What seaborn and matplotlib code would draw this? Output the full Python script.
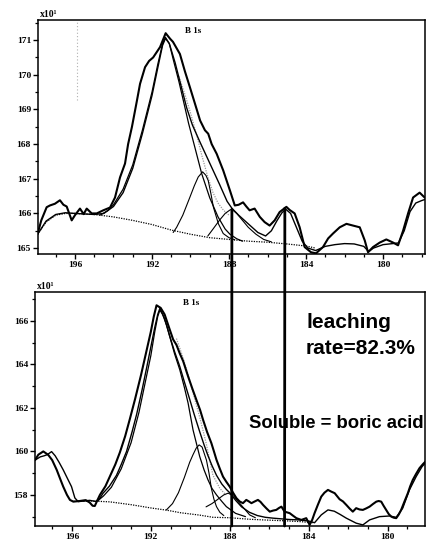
import pandas as pd
import seaborn as sns
import matplotlib.pyplot as plt
from matplotlib.patches import ConnectionPatch
from matplotlib.ticker import MultipleLocator

# B 1s XPS spectra, binding energy (eV) vs counts (x10^1)
# --- upper spectrum ---
top_raw = [(197.94, 165.41), (197.75, 165.8), (197.47, 166.18), (197.3, 166.23), (197.04, 166.28),
           (196.78, 166.38), (196.6, 166.25), (196.43, 166.2), (196.17, 165.8), (196.0, 165.95),
           (195.74, 166.14), (195.55, 165.98), (195.39, 166.14), (195.13, 166.0), (194.87, 166.0),
           (194.53, 166.09), (194.18, 166.17), (193.92, 166.46), (193.66, 167.04), (193.4, 167.44),
           (193.24, 168.0), (193.04, 168.5), (192.78, 169.26), (192.62, 169.74), (192.36, 170.22),
           (192.15, 170.4), (191.94, 170.5), (191.58, 170.8), (191.29, 171.2), (191.06, 171.04),
           (190.91, 170.95), (190.55, 170.6), (190.29, 170.1), (190.03, 169.64), (189.77, 169.17),
           (189.5, 168.68), (189.25, 168.4), (189.08, 168.3), (188.9, 168.0), (188.64, 167.72),
           (188.3, 167.24), (187.95, 166.66), (187.7, 166.23), (187.5, 166.25), (187.27, 166.32),
           (187.1, 166.2), (186.93, 166.09), (186.67, 166.14), (186.4, 165.9), (186.15, 165.75),
           (185.89, 165.65), (185.63, 165.8), (185.37, 166.04), (185.02, 166.19), (184.85, 166.1),
           (184.59, 166.0), (184.33, 165.6), (184.07, 165.03), (183.74, 164.88), (183.48, 164.85),
           (183.12, 165.03), (182.85, 165.28), (182.6, 165.42), (182.25, 165.6), (181.9, 165.7),
           (181.56, 165.65), (181.21, 165.6), (180.95, 165.22), (180.78, 164.88), (180.52, 165.03),
           (180.17, 165.16), (179.83, 165.25), (179.48, 165.16), (179.22, 165.08), (178.96, 165.5),
           (178.7, 166.0), (178.44, 166.46), (178.1, 166.6), (177.84, 166.46)]
top_fit = [(197.94, 165.40), (197.5, 165.78), (197.0, 165.97), (196.5, 166.02), (196.0, 166.0),
           (195.0, 165.97), (194.5, 166.0), (194.0, 166.2), (193.5, 166.6), (193.0, 167.3),
           (192.5, 168.3), (192.0, 169.4), (191.7, 170.2), (191.45, 170.85), (191.3, 171.05),
           (191.1, 170.9), (190.8, 170.35), (190.5, 169.7), (190.2, 169.05), (189.9, 168.55),
           (189.5, 168.05), (189.0, 167.45), (188.5, 166.85), (188.1, 166.35), (187.85, 166.15),
           (187.5, 165.95), (187.0, 165.7), (186.5, 165.45), (186.1, 165.35), (185.8, 165.5),
           (185.5, 165.8), (185.25, 166.02), (185.05, 166.12), (184.8, 166.0), (184.5, 165.6),
           (184.2, 165.2), (183.9, 165.0), (183.5, 164.93), (183.0, 165.05), (182.5, 165.1),
           (182.0, 165.13), (181.5, 165.12), (181.0, 165.05), (180.75, 164.9), (180.5, 165.0),
           (180.0, 165.1), (179.5, 165.13), (179.2, 165.15), (178.9, 165.5), (178.6, 166.05),
           (178.3, 166.3), (178.0, 166.37), (177.84, 166.4)]
top_c1 = [(194.7, 165.95), (194.3, 166.08), (194.0, 166.25), (193.5, 166.7), (193.0, 167.4),
          (192.5, 168.4), (192.0, 169.5), (191.7, 170.3), (191.45, 170.9), (191.3, 171.08),
          (191.1, 170.9), (190.9, 170.45), (190.6, 169.8), (190.39, 169.3), (190.1, 168.6),
          (189.77, 167.9), (189.42, 167.15), (189.0, 166.45), (188.57, 165.9), (188.2, 165.55),
          (187.95, 165.4), (187.6, 165.27), (187.3, 165.2)]
top_c2 = [(190.9, 165.45), (190.72, 165.6), (190.4, 165.95), (190.03, 166.47), (189.8, 166.8),
          (189.6, 167.05), (189.37, 167.2), (189.2, 167.1), (189.08, 166.95), (188.95, 166.6),
          (188.81, 166.18), (188.55, 165.7), (188.3, 165.42), (188.0, 165.3), (187.7, 165.24)]
top_c3 = [(189.1, 165.35), (188.83, 165.55), (188.5, 165.8), (188.2, 166.0), (187.95, 166.1),
          (187.85, 166.12), (187.6, 166.0), (187.3, 165.8), (187.0, 165.6), (186.6, 165.4),
          (186.2, 165.25), (185.8, 165.18)]
top_dot = [(190.6, 169.95), (190.3, 169.45), (190.0, 168.9), (189.7, 168.3), (189.4, 167.65),
           (189.1, 167.05), (188.83, 166.6), (188.57, 166.3), (188.3, 166.1), (188.0, 165.95)]
top_bg = [(197.94, 165.40), (197.5, 165.75), (197.0, 165.95), (196.5, 166.0), (196.0, 166.0),
          (195.0, 165.97), (194.0, 165.9), (193.0, 165.8), (192.0, 165.68), (191.0, 165.52),
          (190.0, 165.4), (189.0, 165.3), (188.0, 165.25), (187.0, 165.2), (186.0, 165.17),
          (185.0, 165.12), (184.0, 165.06), (183.5, 165.0)]

# --- lower spectrum (after leaching) ---
bot_raw = [(197.87, 159.6), (197.7, 159.85), (197.45, 160.0), (197.2, 159.84), (197.0, 159.6),
           (196.77, 159.15), (196.6, 158.75), (196.44, 158.38), (196.25, 158.0), (196.1, 157.77),
           (195.93, 157.69), (195.6, 157.72), (195.3, 157.76), (195.1, 157.65), (194.95, 157.5),
           (194.84, 157.49), (194.7, 157.77), (194.58, 158.0), (194.3, 158.4), (194.08, 158.84),
           (193.8, 159.4), (193.57, 159.95), (193.3, 160.7), (193.06, 161.5), (192.8, 162.4),
           (192.5, 163.5), (192.25, 164.5), (192.0, 165.5), (191.85, 166.2), (191.71, 166.72),
           (191.5, 166.6), (191.3, 166.3), (191.04, 165.6), (190.87, 165.15), (190.7, 164.9),
           (190.53, 164.5), (190.36, 164.15), (190.11, 163.45), (189.9, 162.9), (189.69, 162.37),
           (189.5, 161.9), (189.35, 161.45), (189.15, 160.9), (188.93, 160.38), (188.8, 160.0),
           (188.67, 159.61), (188.5, 159.2), (188.34, 158.84), (188.17, 158.6), (188.0, 158.38),
           (187.83, 158.1), (187.66, 157.85), (187.5, 157.7), (187.33, 157.62), (187.16, 157.77),
           (187.03, 157.7), (186.9, 157.62), (186.73, 157.7), (186.57, 157.77), (186.44, 157.68),
           (186.31, 157.54), (186.14, 157.38), (185.97, 157.23), (185.8, 157.28), (185.64, 157.31),
           (185.5, 157.4), (185.38, 157.46), (185.22, 157.23), (184.96, 157.16), (184.8, 157.05),
           (184.62, 156.93), (184.37, 156.85), (184.12, 156.93), (183.95, 156.62), (183.82, 156.85),
           (183.7, 157.16), (183.53, 157.55), (183.36, 157.92), (183.2, 158.1), (183.02, 158.23),
           (182.85, 158.15), (182.68, 158.08), (182.43, 157.8), (182.26, 157.7), (182.09, 157.54),
           (181.93, 157.38), (181.76, 157.23), (181.59, 157.39), (181.42, 157.33), (181.25, 157.31),
           (181.08, 157.38), (180.91, 157.46), (180.74, 157.58), (180.57, 157.69), (180.45, 157.72),
           (180.32, 157.69), (180.2, 157.5), (180.07, 157.31), (179.94, 157.12), (179.81, 157.0),
           (179.68, 156.95), (179.56, 156.93), (179.43, 157.1), (179.31, 157.31), (179.14, 157.7),
           (178.97, 158.08), (178.85, 158.4), (178.72, 158.69), (178.55, 158.97), (178.38, 159.23),
           (178.2, 159.42), (178.08, 159.53)]
bot_fit = [(197.87, 159.6), (197.6, 159.75), (197.4, 159.8), (197.25, 159.85), (197.03, 159.99),
           (196.85, 159.8), (196.65, 159.5), (196.44, 159.15), (196.19, 158.69), (196.02, 158.38),
           (195.85, 157.86), (195.68, 157.69), (195.4, 157.72), (195.1, 157.75), (194.8, 157.7),
           (194.6, 157.82), (194.42, 158.08), (194.1, 158.4), (193.74, 158.9), (193.5, 159.4),
           (193.23, 160.0), (192.95, 160.9), (192.72, 161.7), (192.45, 162.8), (192.2, 163.9),
           (192.0, 164.8), (191.8, 165.7), (191.65, 166.3), (191.54, 166.58), (191.3, 166.1),
           (191.04, 165.3), (190.8, 164.6), (190.53, 163.9), (190.3, 163.2), (190.03, 162.4),
           (189.8, 161.7), (189.52, 160.9), (189.3, 160.3), (189.1, 159.8), (188.9, 159.35),
           (188.67, 158.9), (188.4, 158.5), (188.17, 158.25), (188.0, 158.1), (187.7, 157.75),
           (187.4, 157.45), (187.0, 157.2), (186.6, 157.05), (186.2, 156.97), (185.8, 156.93),
           (185.4, 156.9), (185.0, 156.87), (184.5, 156.85), (184.0, 156.8), (183.7, 156.72),
           (183.36, 157.08), (183.02, 157.31), (182.7, 157.25), (182.4, 157.1), (182.09, 156.93),
           (181.59, 156.7), (181.25, 156.62), (180.91, 156.85), (180.41, 157.0), (179.9, 157.03),
           (179.56, 156.97), (179.23, 157.39), (178.89, 158.23), (178.55, 158.84), (178.25, 159.3),
           (178.1, 159.45)]
bot_c1 = [(194.7, 157.72), (194.4, 157.95), (194.0, 158.35), (193.5, 159.2), (193.0, 160.4),
          (192.6, 161.8), (192.3, 163.1), (192.0, 164.4), (191.8, 165.5), (191.65, 166.2),
          (191.54, 166.5), (191.4, 166.3), (191.2, 165.8), (191.04, 165.28), (190.8, 164.5),
          (190.53, 163.75), (190.3, 162.95), (190.11, 162.22), (189.86, 160.99), (189.52, 159.76),
          (189.3, 159.15), (189.1, 158.69), (188.9, 158.3), (188.67, 158.0), (188.4, 157.7),
          (188.17, 157.46), (187.7, 157.15), (187.2, 157.0)]
bot_c2 = [(191.21, 157.31), (190.9, 157.6), (190.6, 158.1), (190.3, 158.8), (190.03, 159.5),
          (189.86, 159.85), (189.7, 160.15), (189.55, 160.3), (189.4, 160.2), (189.18, 159.6),
          (189.05, 159.0), (188.93, 158.3), (188.8, 157.8), (188.67, 157.46), (188.5, 157.2),
          (188.3, 157.05)]
bot_c3 = [(189.2, 157.45), (188.9, 157.6), (188.6, 157.8), (188.3, 158.0), (188.08, 158.08),
          (187.8, 157.95), (187.5, 157.62), (187.2, 157.3), (186.99, 157.08), (186.7, 156.95)]
bot_dot = [(190.7, 165.19), (190.4, 164.4), (190.1, 163.5), (189.8, 162.5), (189.5, 161.5),
           (189.2, 160.4), (188.85, 158.9), (188.5, 158.3), (188.2, 158.0)]
bot_bg = [(195.93, 157.7), (195.0, 157.72), (194.08, 157.68), (193.0, 157.55), (192.0, 157.4),
          (191.21, 157.3), (190.5, 157.18), (189.52, 157.07), (188.85, 156.97), (188.0, 156.95),
          (187.0, 156.88), (186.3, 156.85), (185.0, 156.8), (184.4, 156.77), (183.8, 156.72)]

# marker lines: (energy in top panel, counts where it starts, energy in bottom panel)
marker_lines = [(187.85, 166.12, 187.9), (185.1, 166.15, 185.22)]
scan_artifact_be = 195.9

top_xlim, top_ylim = (197.92, 177.82), (164.83, 171.58)
bot_xlim, bot_ylim = (197.87, 178.1), (156.57, 167.33)


def trace(ax, pts, **kw):
    df = pd.DataFrame(pts, columns=["be", "cps"])
    sns.lineplot(data=df, x="be", y="cps", sort=False, estimator=None, ax=ax, **kw)


def style_axes(ax, xlim, ylim, ymajor, yminor):
    ax.set_xlim(*xlim)
    ax.set_ylim(*ylim)
    ax.set_xlabel("")
    ax.set_ylabel("")
    ax.xaxis.set_major_locator(MultipleLocator(4))
    ax.xaxis.set_minor_locator(MultipleLocator(1))
    ax.yaxis.set_major_locator(MultipleLocator(ymajor))
    ax.yaxis.set_minor_locator(MultipleLocator(yminor))
    ax.tick_params(which="major", direction="out", length=3.5, width=1.0, pad=1.5,
                   labelsize=6.8, colors="black")
    ax.tick_params(which="minor", direction="out", length=2.5, width=0.9, colors="black")
    for lab in ax.get_xticklabels() + ax.get_yticklabels():
        lab.set_fontweight("bold")
    for sp in ax.spines.values():
        sp.set_linewidth(1.1)
        sp.set_color("black")


sns.set_style("ticks")
plt.rcParams["font.family"] = ["Liberation Serif", "DejaVu Serif"]
plt.rcParams["text.color"] = "black"

fig = plt.figure(figsize=(4.26, 5.44), dpi=100)
ax1 = fig.add_axes([0.0892, 0.5331, 0.9085, 0.4301])
ax2 = fig.add_axes([0.0822, 0.0331, 0.9155, 0.4301])

dotted = (0, (1, 1))
for ax, raw, fit, c1, c2, c3, dot, bg in [
    (ax1, top_raw, top_fit, top_c1, top_c2, top_c3, top_dot, top_bg),
    (ax2, bot_raw, bot_fit, bot_c1, bot_c2, bot_c3, bot_dot, bot_bg),
]:
    trace(ax, bg, color="black", linewidth=0.9, linestyle=dotted)
    trace(ax, dot, color="#9a9a9a", linewidth=0.9, linestyle=dotted)
    trace(ax, c3, color="black", linewidth=0.8)
    trace(ax, c2, color="black", linewidth=0.8)
    trace(ax, c1, color="black", linewidth=0.9)
    trace(ax, fit, color="black", linewidth=1.0)
    trace(ax, raw, color="black", linewidth=1.5)

ax1.axvline(scan_artifact_be, ymin=0.66, ymax=1.0, color="#b0b0b0", linewidth=0.8, linestyle=(0, (1, 2)))

style_axes(ax1, top_xlim, top_ylim, 1, 0.5)
style_axes(ax2, bot_xlim, bot_ylim, 2, 1)

for ax in (ax1, ax2):
    ax.text(0.005, 1.005, "x10\u00b9", transform=ax.transAxes, ha="left", va="bottom",
            fontsize=7, fontweight="bold", color="black")
    ax.text(0.40, 0.955, "B 1s", transform=ax.transAxes, ha="center", va="center",
            fontsize=6.5, fontweight="bold", color="black")

for be_top, cps_top, be_bot in marker_lines:
    con = ConnectionPatch(xyA=(be_top, cps_top), coordsA=ax1.transData,
                          xyB=(be_bot, bot_ylim[0]), coordsB=ax2.transData,
                          color="black", linewidth=2.0)
    fig.add_artist(con)

sans = ["Liberation Sans", "DejaVu Sans"]
fig.text(306 / 426, 1 - 322 / 544, "leaching", fontsize=15, fontweight="bold",
         family=sans, ha="left", va="center", color="black")
fig.text(306 / 426, 1 - 349 / 544, "rate=82.3%", fontsize=15, fontweight="bold",
         family=sans, ha="left", va="center", color="black")
fig.text(249 / 426, 1 - 424 / 544, "Soluble = boric acid", fontsize=13.3, fontweight="bold",
         family=sans, ha="left", va="center", color="black")

fig.savefig("out.png", dpi=100)
